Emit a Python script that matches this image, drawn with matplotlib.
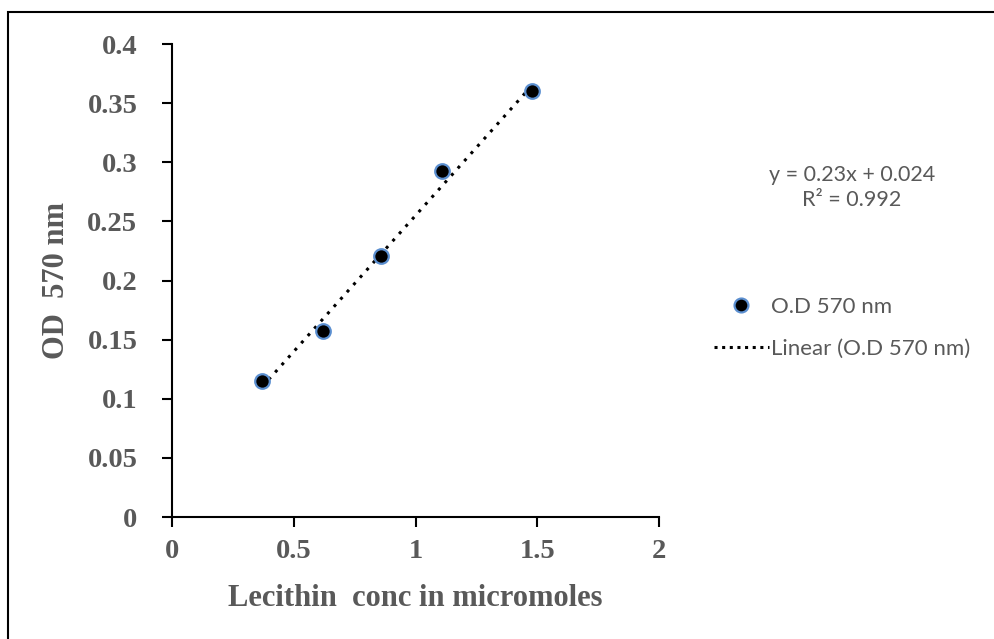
import matplotlib
matplotlib.use("Agg")
import matplotlib.pyplot as plt
from matplotlib.lines import Line2D
from matplotlib.patches import Rectangle
import numpy as np

# lecithin standard curve
conc = [0.37, 0.62, 0.86, 1.11, 1.48]
od570 = [0.115, 0.157, 0.221, 0.293, 0.360]
x_ticks = [0, 0.5, 1, 1.5, 2]
y_ticks = [0, 0.05, 0.1, 0.15, 0.2, 0.25, 0.3, 0.35, 0.4]
x_labels = ['0', '0.5', '1', '1.5', '2']
y_labels = ['0', '0.05', '0.1', '0.15', '0.2', '0.25', '0.3', '0.35', '0.4']

grey = '#595959'
serif = 'Liberation Serif'
sans = 'Lato'

fig = plt.figure(figsize=(9.95, 6.39), dpi=100)
ax = fig.add_axes([0.1729, 0.1909, 0.4894, 0.7402])

# linear trendline from the data
slope, icpt = np.polyfit(conc, od570, 1)
xs = np.array([min(conc), max(conc)])
ax.plot(xs, slope * xs + icpt, color='black', linestyle=(0, (1, 2.2)),
        linewidth=2.2, zorder=2)
ax.scatter(conc, od570, s=110, color='black', edgecolors='#5b8fd0',
           linewidths=1.6, zorder=3)

ax.set_xlim(0, 2)
ax.set_ylim(0, 0.4)
ax.set_xticks(x_ticks)
ax.set_xticklabels(x_labels)
ax.set_yticks(y_ticks)
ax.set_yticklabels(y_labels)
for s in ['top', 'right']:
    ax.spines[s].set_visible(False)
for s in ['left', 'bottom']:
    ax.spines[s].set_linewidth(1.5)
ax.tick_params(direction='out', length=7, width=1.5, colors='black',
               labelcolor=grey)
ax.tick_params(axis='y', pad=18)
ax.tick_params(axis='x', pad=9)
for lab in ax.get_xticklabels() + ax.get_yticklabels():
    lab.set_fontfamily(serif)
    lab.set_fontweight('bold')
    lab.set_fontsize(20.5)

ax.set_xlabel('Lecithin  conc in micromoles', fontfamily=serif,
              fontweight='bold', fontsize=22, color=grey, labelpad=14)
ax.set_ylabel('OD  570 nm', fontfamily=serif, fontweight='bold',
              fontsize=22, color=grey, labelpad=12)

# equation text
fig.text(0.856, 0.706, 'y = 0.23x + 0.024\nR² = 0.992', ha='center',
         va='center', fontfamily=sans, fontsize=15.5, color=grey,
         linespacing=1.3)

# legend
handles = [Line2D([], [], marker='o', linestyle='none', markersize=10,
                  markerfacecolor='black', markeredgecolor='#5b8fd0',
                  markeredgewidth=1.6),
           Line2D([], [], color='black', linestyle=(0, (1, 1.5)),
                  linewidth=2.2)]
leg = fig.legend(handles, ['O.D 570 nm', 'Linear (O.D 570 nm)'],
                 loc='center left', bbox_to_anchor=(0.697, 0.487),
                 frameon=False, prop={'family': sans, 'size': 16},
                 labelcolor=grey, handlelength=2.5, handletextpad=0.1,
                 labelspacing=1.0)

# chart border (only top and left edges inside the picture)
fig.patches.append(Rectangle((8 / 995, -0.05), 1.1, 1 - 12 / 639 + 0.05,
                             transform=fig.transFigure, fill=False,
                             edgecolor='black', linewidth=1.5))

fig.savefig('out.png', dpi=100)
